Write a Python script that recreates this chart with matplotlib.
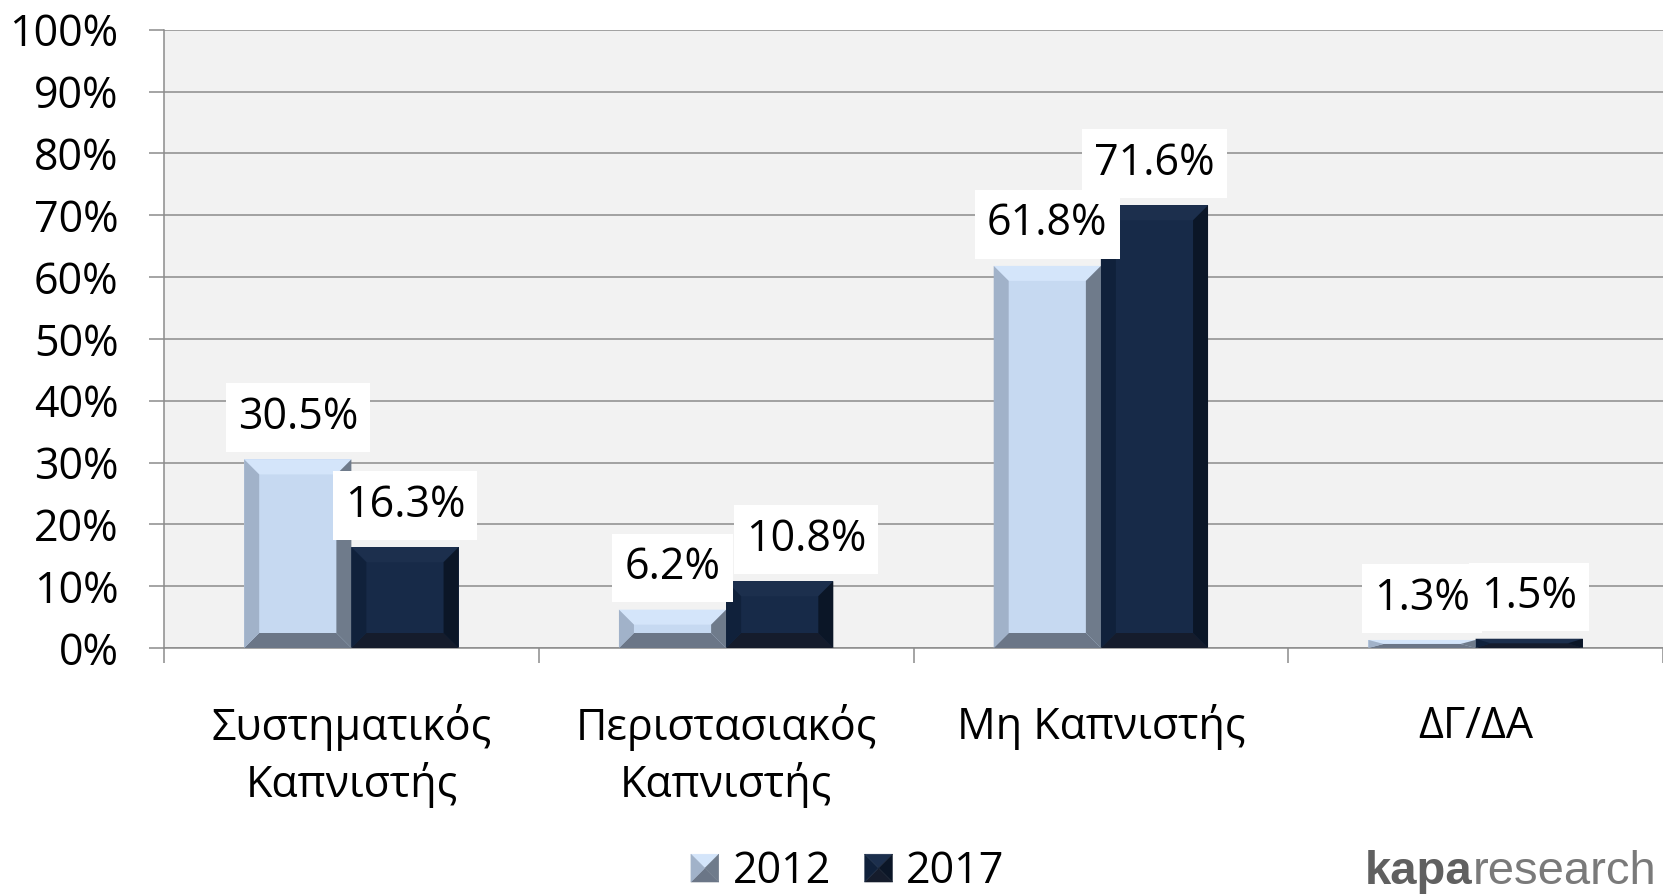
import matplotlib
matplotlib.use('Agg')
import matplotlib.pyplot as plt
from matplotlib.patches import Polygon, Rectangle
from matplotlib.legend_handler import HandlerBase

# ---------------- data ----------------
categories = ['Συστηματικός\nΚαπνιστής', 'Περιστασιακός\nΚαπνιστής', 'Μη Καπνιστής', 'ΔΓ/ΔΑ']
series_names = ['2012', '2017']
values_2012 = [30.5, 6.2, 61.8, 1.3]
values_2017 = [16.3, 10.8, 71.6, 1.5]
y_ticks = [0, 10, 20, 30, 40, 50, 60, 70, 80, 90, 100]
y_tick_labels = ['0%', '10%', '20%', '30%', '40%', '50%', '60%', '70%', '80%', '90%', '100%']

# ---------------- styles ----------------
W, H, DPI = 1663, 896, 100
FS = 31
GRID = '#8C8C8C'
styles = [
    dict(face='#C6D9F1', top='#D4E5FA', left='#A1B2C9', right='#6F7B8B', bottom='#6B7687'),
    dict(face='#172A48', top='#1C2F4D', left='#10213B', right='#0B1627', bottom='#151C2C'),
]
BAR_W = 0.286
BEVEL_PX = 15
# horizontal label nudges (points) keyed by (series index, category index), to avoid overlaps
label_nudge = {(1, 1): 19}

plt.rcParams['font.family'] = ['Open Sans', 'DejaVu Sans']

fig = plt.figure(figsize=(W / DPI, H / DPI), dpi=DPI)
ax_left, ax_top, ax_bottom = 164, 29.7, 648
ax = fig.add_axes([ax_left / W, 1 - ax_bottom / H, 1 - ax_left / W, (ax_bottom - ax_top) / H])
ax.set_facecolor('#F2F2F2')
ax.set_xlim(-0.5, len(categories) - 0.5)
ax.set_ylim(0, 100)
ax.set_axisbelow(True)

# pixel -> data conversions for bevel size
ax_w_px = W - ax_left
ax_h_px = ax_bottom - ax_top
bx_data = BEVEL_PX * (len(categories)) / ax_w_px
by_data = BEVEL_PX * 100 / ax_h_px

def bevel(ax, rect, st):
    x0, y0 = rect.get_x(), rect.get_y()
    w, h = rect.get_width(), rect.get_height()
    x1, y1 = x0 + w, y0 + h
    bx = min(bx_data, w / 2)
    by = min(by_data, h / 2)
    polys = {
        'top': [(x0, y1), (x1, y1), (x1 - bx, y1 - by), (x0 + bx, y1 - by)],
        'bottom': [(x0, y0), (x1, y0), (x1 - bx, y0 + by), (x0 + bx, y0 + by)],
        'left': [(x0, y0), (x0 + bx, y0 + by), (x0 + bx, y1 - by), (x0, y1)],
        'right': [(x1, y0), (x1 - bx, y0 + by), (x1 - bx, y1 - by), (x1, y1)],
    }
    for k, pts in polys.items():
        ax.add_patch(Polygon(pts, closed=True, facecolor=st[k], edgecolor='none', zorder=3))

x = list(range(len(categories)))
series = [values_2012, values_2017]
offsets = [-BAR_W / 2, BAR_W / 2]
for vals, off, st in zip(series, offsets, styles):
    bars = ax.bar([i + off for i in x], vals, width=BAR_W, color=st['face'], edgecolor='none', zorder=2)
    for r in bars:
        bevel(ax, r, st)

# value labels
for si, (vals, off) in enumerate(zip(series, offsets)):
    for i, v in enumerate(vals):
        dx = label_nudge.get((si, i), 0)
        ax.annotate(f'{v:.1f}%', xy=(i + off, v), xytext=(dx, 14), textcoords='offset points',
                    ha='center', va='bottom', fontsize=FS, color='black', zorder=6,
                    bbox=dict(boxstyle='square,pad=0.28', fc='white', ec='none'))

# axes styling
ax.set_yticks(y_ticks)
ax.set_yticklabels(y_tick_labels)
ax.yaxis.grid(True, color=GRID, linewidth=1.1)
ax.tick_params(axis='y', length=10.8, width=1.1, color=GRID, pad=22, labelsize=FS)
ax.set_xticks(x)
ax.set_xticklabels(categories, linespacing=1.3)
ax.set_xticks([i - 0.5 for i in range(len(categories) + 1)], minor=True)
ax.tick_params(axis='x', which='major', length=0, pad=40.5, labelsize=FS)
ax.tick_params(axis='x', which='minor', length=10.8, width=1.1, color=GRID)
for s in ['top', 'right']:
    ax.spines[s].set_visible(False)
for s in ['left', 'bottom']:
    ax.spines[s].set_color(GRID)
    ax.spines[s].set_linewidth(1.1)

# legend with bevel squares
class BevelHandler(HandlerBase):
    def __init__(self, st):
        super().__init__()
        self.st = st

    def create_artists(self, legend, orig_handle, xdescent, ydescent, width, height, fontsize, trans):
        x0, y0 = -xdescent, -ydescent
        side = height
        x0 = x0 + (width - side) / 2
        x1, y1 = x0 + side, y0 + side
        cx, cy = (x0 + x1) / 2, (y0 + y1) / 2
        tris = {
            'top': [(x0, y1), (x1, y1), (cx, cy)],
            'bottom': [(x0, y0), (x1, y0), (cx, cy)],
            'left': [(x0, y0), (cx, cy), (x0, y1)],
            'right': [(x1, y0), (cx, cy), (x1, y1)],
        }
        arts = []
        for k, pts in tris.items():
            p = Polygon(pts, closed=True, facecolor=self.st[k], edgecolor=self.st[k], linewidth=0.3, transform=trans)
            arts.append(p)
        return arts

handles = [Rectangle((0, 0), 1, 1) for _ in series_names]
hmap = {h: BevelHandler(st) for h, st in zip(handles, styles)}
fig.legend(handles, series_names, handler_map=hmap, loc='center',
           bbox_to_anchor=(848 / W, 1 - 872 / H), ncol=2, frameon=False, fontsize=FS,
           handlelength=0.62, handleheight=0.62, handletextpad=0.33, columnspacing=0.8,
           borderpad=0, borderaxespad=0)

# logo
t_research = fig.text(1657 / W, 1 - 884 / H, 'research', ha='right', va='baseline', fontsize=34,
                      color='#7A7A7A', family=['Liberation Sans Narrow', 'Liberation Sans', 'DejaVu Sans'])
fig.canvas.draw()
bb = t_research.get_window_extent()
fig.text(bb.x0 / W - 1 / W, 1 - 884 / H, 'kapa', ha='right', va='baseline', fontsize=34,
         fontweight='heavy', color='#606060', family=['Liberation Sans', 'DejaVu Sans'])

fig.savefig('out.png', dpi=DPI, facecolor='white')
